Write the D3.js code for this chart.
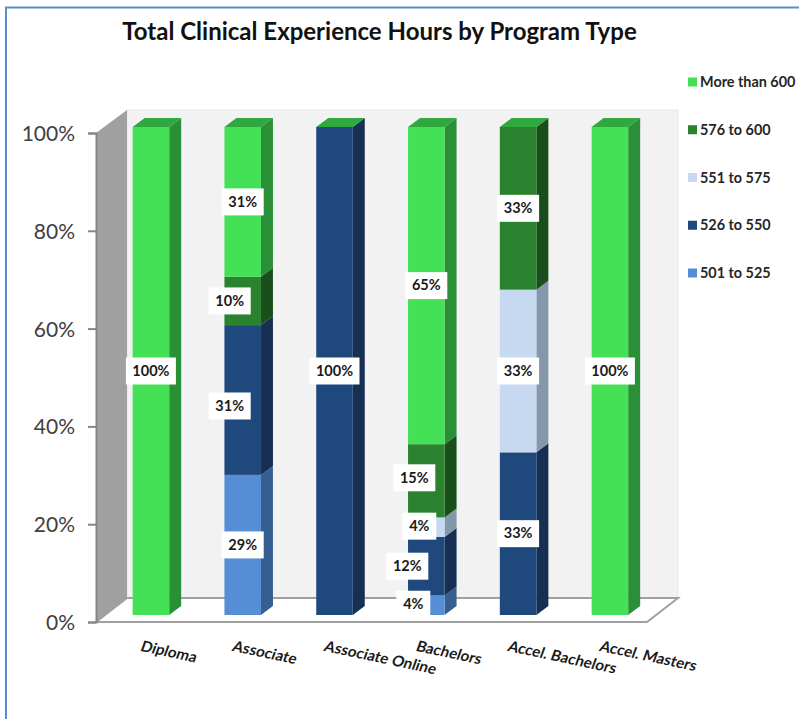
<!DOCTYPE html>
<html><head><meta charset="utf-8">
<script src="https://cdn.jsdelivr.net/npm/d3@7/dist/d3.min.js"></script>
<style>html,body{margin:0;padding:0;background:#fff}svg{display:block}text{font-family:Lato,sans-serif}</style>
</head><body><svg id="c" width="799" height="719"></svg>
<script>
const categories=["Diploma","Associate","Associate Online","Bachelors","Accel. Bachelors","Accel. Masters"];
const seriesNames=["501 to 525","526 to 550","551 to 575","576 to 600","More than 600"];
const s501=[0,29,0,4,0,0];
const s526=[0,31,100,12,33,0];
const s551=[0,0,0,4,33,0];
const s576=[0,10,0,15,33,0];
const s600=[100,31,0,65,0,100];
const yTicks=[0,.2,.4,.6,.8,1];
const title="Total Clinical Experience Hours by Program Type";
const fronts=["#558ed5","#1f497d","#c6d9f0","#2a822f","#44e055"];
const sides=["#365f91","#162f52","#8497ab","#1a4f1c","#2a9038"];
const capColor="#2fa83f";
const rows=[s501,s526,s551,s576,s600];
// hand placement of the data labels [dx,dy] keyed "category|series"
const nudge={"1|3":[-13,0],"1|1":[-13,6],"3|3":[-12,-3],"3|2":[-7,-1],"3|1":[-19,0],"3|0":[-13,-1]};
const table=categories.map((c,i)=>{const o={c};seriesNames.forEach((s,j)=>o[s]=rows[j][i]);return o;});
const stacked=d3.stack().keys(seriesNames).offset(d3.stackOffsetExpand)(table);
const svg=d3.select("#c");
const dx=12,dy=9;
const x=d3.scaleBand().domain(categories).range([105,655.8]).paddingInner(.602).paddingOuter(.301);
const y=d3.scaleLinear().domain([0,1]).range([615,127]);
const yAxisS=d3.scaleLinear().domain([0,1]).range([622,133]);
// frame
svg.append("path").attr("d","M6,719V7.5H799").attr("fill","none").attr("stroke","#5b8bc9").attr("stroke-width",2);
svg.append("text").attr("x",379.5).attr("y",40).attr("text-anchor","middle").attr("font-size",24).attr("font-weight",700).attr("fill","#111").text(title);
// walls
const wx0=96,wx1=127,wx2=678,fx=647;
const yb=yAxisS(1)-23,yf=yAxisS(0)-24;
svg.append("rect").attr("x",wx1).attr("y",yb).attr("width",wx2-wx1).attr("height",yf-yb).attr("fill","#f2f2f2").attr("stroke","#e8e8e8");
svg.append("polygon").attr("points",[[wx0,yAxisS(1)],[wx1,yb],[wx1,yf],[wx0,yAxisS(0)]].join(" ")).attr("fill","#a0a0a0");
svg.append("polygon").attr("points",[[wx1,yf],[wx2,yf],[fx,yAxisS(0)],[wx0,yAxisS(0)]].join(" ")).attr("fill","#fff").attr("stroke","#a0a0a0").attr("stroke-width",2);
// y axis
const ax=svg.append("g").attr("transform",`translate(${wx0},0)`).call(d3.axisLeft(yAxisS).tickValues(yTicks).tickFormat(d3.format(".0%")).tickSize(8).tickPadding(13));
ax.selectAll("path,line").attr("stroke","#868686").attr("stroke-width",2);
ax.selectAll("text").attr("font-size",21).attr("fill","#404040").attr("dy","0.36em").style("font-family","Lato,sans-serif");
// bars
stacked.forEach((ser,j)=>{
  const g=svg.append("g");
  ser.forEach(d=>{
    if(d[1]-d[0]<=0)return;
    const c=d.data.c,x0=x(c),x1=x0+x.bandwidth(),yt=y(d[1]),yl=y(d[0]);
    g.append("polygon").attr("points",[[x1,yt],[x1+dx,yt-dy],[x1+dx,yl-dy],[x1,yl]].join(" ")).attr("fill",sides[j]);
    if(d[1]>=.999)g.append("polygon").attr("points",[[x0,yt],[x0+dx,yt-dy],[x1+dx,yt-dy],[x1,yt]].join(" ")).attr("fill",capColor);
    g.append("rect").attr("x",x0).attr("y",yt).attr("width",x.bandwidth()).attr("height",yl-yt).attr("fill",fronts[j]);
  });
});
// data labels
stacked.forEach((ser,j)=>{
  ser.forEach((d,i)=>{
    const v=rows[j][i]; if(!v)return;
    const n=nudge[i+"|"+j]||[0,0];
    const cx=x(d.data.c)+x.bandwidth()/2+n[0],cy=(y(d[0])+y(d[1]))/2+n[1];
    const w=v>=100?50:v<10?34:42,h=27;
    svg.append("rect").attr("x",cx-w/2).attr("y",cy-h/2).attr("width",w).attr("height",h).attr("fill","#fff");
    svg.append("text").attr("x",cx).attr("y",cy-0.5).attr("dy","0.36em").attr("text-anchor","middle").attr("font-size",14.5).attr("font-weight",700).attr("fill","#1a1a1a").text(v+"%");
  });
});
// category labels
svg.append("g").selectAll("text").data(categories).join("text")
  .attr("transform",d=>`translate(${x(d)+10},642) rotate(12) skewX(-8)`)
  .attr("dy","0.6em").attr("font-size",15.2).attr("font-weight",700).attr("fill","#1a1a1a").text(d=>d);
// legend
const leg=d3.scalePoint().domain(seriesNames.slice().reverse()).range([82,273]);
seriesNames.forEach((s,j)=>{
  svg.append("rect").attr("x",688).attr("y",leg(s)-4.5).attr("width",9).attr("height",9).attr("fill",fronts[j]);
  svg.append("text").attr("x",700).attr("y",leg(s)).attr("dy","0.36em").attr("font-size",14.4).attr("font-weight",700).attr("fill","#262626").text(s);
});
</script></body></html>
